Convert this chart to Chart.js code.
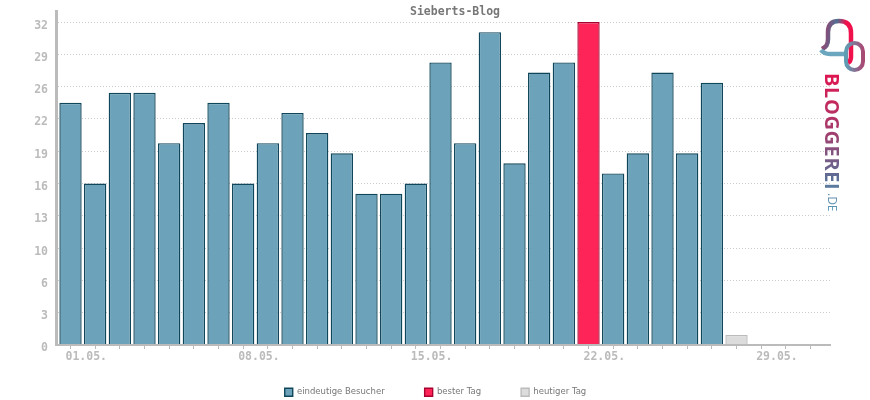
<!DOCTYPE html>
<html>
<head>
<meta charset="utf-8">
<script src="https://cdn.jsdelivr.net/npm/chart.js@4"></script>
<style>
  html, body { margin: 0; padding: 0; background: #fff; }
  #wrap { position: relative; width: 870px; height: 400px; overflow: hidden; }
  #logoText {
    position: absolute; left: 821px; top: 73px;
    writing-mode: vertical-rl;
    font: 700 20px "Open Sans", sans-serif; line-height: 22px; letter-spacing: 0.6px;
    background: linear-gradient(180deg, #e0154f 0%, #a83a6a 40%, #5d6d95 75%, #5a9cb8 100%);
    -webkit-background-clip: text; background-clip: text; color: transparent;
    white-space: nowrap;
  }
  #logoText span { font-weight: 400; font-size: 12px; margin-top: 3px; display: inline-block; letter-spacing: 0; }
  #logo { position: absolute; left: 815px; top: 15px; }
</style>
</head>
<body>
<div id="wrap">
  <canvas id="chart" width="870" height="400"></canvas>
  <svg id="logo" width="55" height="65" viewBox="0 0 55 65" fill="none">
    <defs>
      <linearGradient id="g1" x1="0" y1="0" x2="1" y2="0.2">
        <stop offset="0" stop-color="#a83a6a"/>
        <stop offset="0.5" stop-color="#4e6f92"/>
        <stop offset="0.8" stop-color="#f0104c"/>
        <stop offset="1" stop-color="#f0104c"/>
      </linearGradient>
      <linearGradient id="g3" x1="0" y1="0" x2="1" y2="0">
        <stop offset="0" stop-color="#5f9db5"/>
        <stop offset="1" stop-color="#a84a74"/>
      </linearGradient>
    </defs>
    <path d="M7 34 C11 32 13 30 13 24 L13 17 C13 9 17 6 24 6 C32 6 36 10 36 18 L36 42 Q36 46 33 48" stroke="url(#g1)" stroke-width="4.5"/>
    <path d="M6 35 Q9 39 15 39 L31 39" stroke="#6aa6bd" stroke-width="4.5"/>
    <rect x="31" y="28" width="17" height="27" rx="8.5" stroke="url(#g3)" stroke-width="4"/>
  </svg>
  <div id="logoText">BLOGGEREI<span>.DE</span></div>
</div>
<script>
const days = ['01.05.','02.05.','03.05.','04.05.','05.05.','06.05.','07.05.','08.05.','09.05.','10.05.','11.05.','12.05.','13.05.','14.05.','15.05.','16.05.','17.05.','18.05.','19.05.','20.05.','21.05.','22.05.','23.05.','24.05.','25.05.','26.05.','27.05.','28.05.','29.05.','30.05.','31.05.'];
const visitors = [24,16,25,25,20,22,24,16,20,23,21,19,15,15,16,28,20,31,18,27,28,null,17,19,27,19,26,null,null,null,null];
const bestDay = [null,null,null,null,null,null,null,null,null,null,null,null,null,null,null,null,null,null,null,null,null,32,null,null,null,null,null,null,null,null,null];
const today = [null,null,null,null,null,null,null,null,null,null,null,null,null,null,null,null,null,null,null,null,null,null,null,null,null,null,null,1,null,null,null];
const xTickLabels = ['01.05.','08.05.','15.05.','22.05.','29.05.'];
const yTicks = [0,3.2,6.4,9.6,12.8,16,19.2,22.4,25.6,28.8,32];
const yTickLabels = ['0','3','6','10','13','16','19','22','26','29','32'];

function points(values) {
    return values.map((v, i) => ({ x: i, y: v }));
}

function barSet(label, values, fill, border) {
    return {
        label: label,
        data: points(values),
        backgroundColor: fill,
        borderColor: border,
        borderWidth: 1.4,
        grouped: false,
        categoryPercentage: 1,
        barPercentage: 0.905
    };
}

// title and legend do not sit where the layout would put them
const moveBoxes = {
    id: 'moveBoxes',
    afterLayout(chart) {
        chart.titleBlock.left += 40;
        chart.titleBlock.right += 40;
        chart.titleBlock.top += 6.8;
        chart.titleBlock.bottom += 6.8;
        chart.legend.left += 20.5;
        chart.legend.right += 20.5;
        chart.legend.top = 348;
        chart.legend.bottom = 408;
    }
};

const mono = '"DejaVu Sans Mono", monospace';

new Chart(document.getElementById('chart').getContext('2d'), {
    type: 'bar',
    plugins: [moveBoxes],
    data: {
        datasets: [
            barSet('eindeutige Besucher', visitors, '#6ca3bb', '#0f4659'),
            barSet('bester Tag', bestDay, '#ff2458', '#a8002f'),
            barSet('heutiger Tag', today, '#dcdcdc', '#bbbbbb')
        ]
    },
    options: {
        responsive: false,
        animation: false,
        layout: { padding: { left: 0, right: 40, top: -1.8, bottom: -27.5 } },
        plugins: {
            tooltip: { enabled: false },
            title: {
                display: true,
                text: 'Sieberts-Blog',
                color: '#777777',
                font: { family: mono, size: 11.5, weight: 'bold' },
                padding: 0
            },
            legend: {
                position: 'bottom',
                labels: {
                    boxWidth: 8,
                    boxHeight: 8,
                    padding: 40,
                    color: '#777777',
                    font: { family: '"DejaVu Sans", sans-serif', size: 8.5 }
                }
            }
        },
        scales: {
            x: {
                type: 'linear',
                offset: false,
                min: -0.588,
                max: 30.79,
                afterBuildTicks(scale) {
                    scale.ticks = days.map((d, i) => ({ value: i }));
                },
                afterFit(scale) { scale.height = 24; },
                grid: { offset: false, drawOnChartArea: false, tickLength: 4, color: '#bbbbbb' },
                border: { color: '#bbbbbb', width: 2, z: 1 },
                ticks: {
                    autoSkip: false,
                    maxRotation: 0,
                    align: 'start',
                    labelOffset: -5,
                    padding: 1,
                    color: '#bbbbbb',
                    font: { family: mono, size: 11.5, weight: 'bold' },
                    callback(value) {
                        return xTickLabels.includes(days[value]) ? days[value] : '';
                    }
                }
            },
            y: {
                min: 0,
                max: 33,
                afterBuildTicks(scale) {
                    scale.ticks = yTicks.map(v => ({ value: v }));
                },
                afterFit(scale) {
                    scale.width = 56;
                    scale.paddingTop = 0;
                    scale.paddingBottom = 0;
                },
                grid: { color: '#cccccc', tickLength: 0 },
                border: { color: '#bbbbbb', width: 3, dash: [1, 2] },
                ticks: {
                    padding: 8,
                    labelOffset: 3.5,
                    color: '#bbbbbb',
                    font: { family: mono, size: 11.5, weight: 'bold' },
                    callback(value, index) {
                        return yTickLabels[index];
                    }
                }
            }
        }
    }
});
</script>
</body>
</html>
